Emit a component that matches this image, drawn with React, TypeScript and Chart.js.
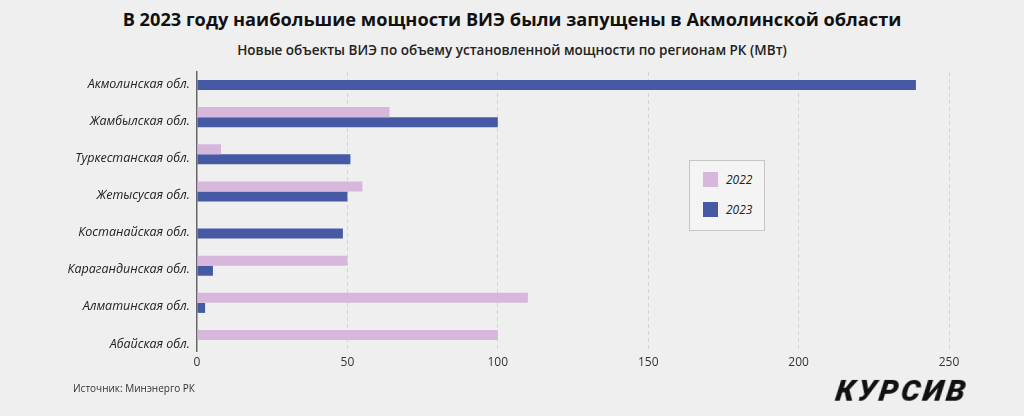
import React, { useEffect, useRef } from "react";
import { Chart, registerables } from "chart.js";

Chart.register(...registerables);

const categories = [
  "Акмолинская обл.",
  "Жамбылская обл.",
  "Туркестанская обл.",
  "Жетысусая обл.",
  "Костанайская обл.",
  "Карагандинская обл.",
  "Алматинская обл.",
  "Абайская обл.",
];
const values2022: (number | null)[] = [null, 64, 8, 55, null, 50, 110, 100];
const values2023: (number | null)[] = [239, 100, 51, 50, 48.5, 5.3, 2.7, null];
const seriesLabels = ["2022", "2023"];
const seriesColors = ["#d7b8dc", "#4659a5"];
const xTicks = [0, 50, 100, 150, 200, 250];

const TITLE = "В 2023 году наибольшие мощности ВИЭ были запущены в Акмолинской области";
const SUBTITLE = "Новые объекты ВИЭ по объему установленной мощности по регионам РК (МВт)";
const SOURCE = "Источник: Минэнерго РК";
const LOGO = "КУРСИВ";

export default function App() {
  const ref = useRef<HTMLCanvasElement | null>(null);

  useEffect(() => {
    if (!ref.current) return;
    const toPoints = (arr: (number | null)[]) =>
      arr.map((v, i) => ({ x: v, y: i }));
    const chart = new Chart(ref.current, {
      type: "bar",
      data: {
        datasets: [
          {
            label: seriesLabels[0],
            data: toPoints(values2022) as any,
            backgroundColor: seriesColors[0],
            categoryPercentage: 0.54,
            barPercentage: 1,
          },
          {
            label: seriesLabels[1],
            data: toPoints(values2023) as any,
            backgroundColor: seriesColors[1],
            categoryPercentage: 0.54,
            barPercentage: 1,
          },
        ],
      },
      options: {
        indexAxis: "y",
        responsive: false,
        animation: false,
        layout: { padding: { top: 72, right: 75, left: 0, bottom: 0 } },
        plugins: {
          legend: { display: false },
          tooltip: { enabled: false },
          title: { display: false },
        },
        scales: {
          x: {
            type: "linear",
            min: 0,
            max: 250,
            afterBuildTicks: (scale: any) => {
              scale.ticks = xTicks.map((v) => ({ value: v }));
            },
            afterFit: (scale: any) => {
              scale.height = 65;
            },
            border: { display: false, dash: [4, 3] },
            grid: {
              drawTicks: false,
              color: (ctx: any) =>
                ctx.tick && ctx.tick.value === 0 ? "rgba(0,0,0,0)" : "#d4d4d4",
              lineWidth: 1,
            },
            ticks: {
              padding: 4,
              color: "#333",
              font: { family: "'Open Sans'", size: 12 },
            },
          },
          y: {
            type: "linear",
            reverse: true,
            offset: false,
            min: -0.215,
            max: 7.296,
            afterFit: (scale: any) => {
              scale.width = 197;
            },
            border: { display: true, color: "#666", width: 1.5 },
            grid: { display: false, drawTicks: false, offset: false },
            ticks: {
              stepSize: 1,
              includeBounds: false,
              autoSkip: false,
              padding: 7,
              labelOffset: 4,
              color: "#222",
              font: { family: "'Open Sans'", size: 12.5, style: "italic" },
              callback: (v: any) =>
                Number.isInteger(v) && categories[v] ? categories[v] : "",
            },
          },
        },
      },
    } as any);
    return () => chart.destroy();
  }, []);

  return (
    <div
      style={{
        position: "fixed",
        left: 0,
        top: 0,
        width: 1024,
        height: 416,
        background: "#efefef",
        overflow: "hidden",
      }}
    >
      <div
        style={{
          position: "absolute",
          left: 0,
          top: 6,
          width: 1024,
          textAlign: "center",
          fontFamily: "'Open Sans', sans-serif",
          fontWeight: 700,
          fontSize: 18.2,
          color: "#111",
          lineHeight: "26px",
        }}
      >
        {TITLE}
      </div>
      <div
        style={{
          position: "absolute",
          left: 0,
          top: 40,
          width: 1024,
          textAlign: "center",
          fontFamily: "'Open Sans', sans-serif",
          fontWeight: 600,
          fontSize: 13.5,
          color: "#222",
          lineHeight: "20px",
        }}
      >
        {SUBTITLE}
      </div>
      <canvas
        ref={ref}
        width={1024}
        height={416}
        style={{ position: "absolute", left: 0, top: 0, width: 1024, height: 416 }}
      />
      <div
        style={{
          position: "absolute",
          left: 689,
          top: 160,
          width: 74,
          height: 69,
          border: "1px solid #c6c6c6",
          background: "#f4f4f4",
          fontFamily: "'Open Sans', sans-serif",
          fontStyle: "italic",
          fontSize: 12,
          color: "#222",
        }}
      >
        {seriesLabels.map((l, i) => (
          <div
            key={l}
            style={{
              position: "absolute",
              left: 13,
              top: 11 + i * 30,
              display: "flex",
              alignItems: "center",
              height: 15,
            }}
          >
            <span
              style={{
                display: "inline-block",
                width: 15,
                height: 15,
                background: seriesColors[i],
                marginRight: 8,
              }}
            />
            <span>{l}</span>
          </div>
        ))}
      </div>
      <div
        style={{
          position: "absolute",
          left: 73,
          top: 381,
          fontFamily: "'Open Sans', sans-serif",
          fontSize: 10,
          color: "#333",
        }}
      >
        {SOURCE}
      </div>
      <div
        style={{
          position: "absolute",
          left: 836,
          top: 374,
          fontFamily: "Roboto, sans-serif",
          fontWeight: 900,
          fontStyle: "italic",
          fontSize: 30,
          letterSpacing: 3,
          color: "#111",
          lineHeight: "34px",
          transform: "skewX(-8deg)",
        }}
      >
        {LOGO}
      </div>
    </div>
  );
}
